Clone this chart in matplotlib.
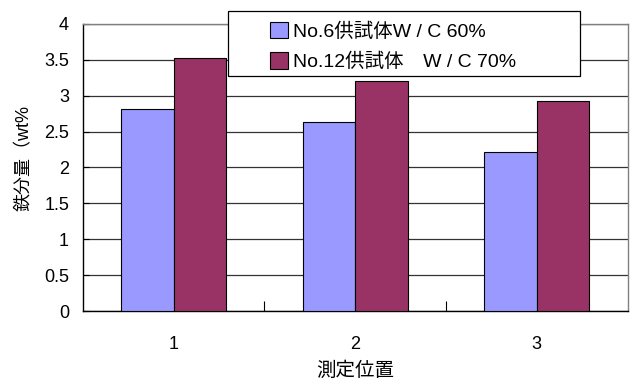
import matplotlib
matplotlib.use("Agg")
import matplotlib.pyplot as plt
from matplotlib.patches import Rectangle
import numpy as np

plt.rcParams['font.family'] = ['Liberation Sans', 'Noto Sans CJK JP', 'DejaVu Sans']

positions = ["1", "2", "3"]
series_labels = ["No.6供試体W / C 60%", "No.12供試体\u3000W / C 70%"]
wc60 = [2.81, 2.64, 2.22]
wc70 = [3.53, 3.21, 2.92]
colors = ["#9999FF", "#993366"]
y_ticks = [0, 0.5, 1, 1.5, 2, 2.5, 3, 3.5, 4]
y_tick_labels = ["0", "0.5", "1", "1.5", "2", "2.5", "3", "3.5", "4"]

fig = plt.figure(figsize=(6.31, 3.85), dpi=100)
ax = fig.add_axes([0.1315, 0.1922, 0.8630, 0.7455])

x = np.arange(len(positions))
w = 0.289
b1 = ax.bar(x - w / 2, wc60, w, color=colors[0], edgecolor="black", linewidth=0.8,
            label=series_labels[0], zorder=3)
b2 = ax.bar(x + w / 2, wc70, w, color=colors[1], edgecolor="black", linewidth=0.8,
            label=series_labels[1], zorder=3)

ax.set_xlim(-0.5, len(positions) - 0.5)
ax.set_ylim(0, 4)
ax.set_yticks(y_ticks)
ax.set_yticklabels(y_tick_labels, fontsize=13)
ax.yaxis.grid(True, color="#333333", linewidth=0.9, zorder=0)
ax.tick_params(axis="y", direction="in", length=4, pad=10, color="black")

# category boundaries carry the tick marks, labels sit at the centres
ax.set_xticks(np.arange(0.5, len(positions) - 0.5, 1.0))
ax.set_xticklabels([])
ax.tick_params(axis="x", which="major", direction="in", length=7, color="black")
ax.set_xticks(x, minor=True)
ax.set_xticklabels(positions, minor=True, fontsize=13)
ax.tick_params(axis="x", which="minor", length=0, pad=18)

for side in ["top", "right"]:
    ax.spines[side].set_color("#808080")
    ax.spines[side].set_linewidth(1.0)
for side in ["left", "bottom"]:
    ax.spines[side].set_color("black")
    ax.spines[side].set_linewidth(1.0)

ax.set_xlabel("測定位置", fontsize=14, labelpad=6)
fig.text(0.038, 0.59, "鉄分量（wt%", rotation=90, fontsize=13, ha="center", va="center")

# legend frame, wider than its entries
frame = Rectangle((0.361, 0.803), 0.558, 0.168, transform=fig.transFigure,
                  facecolor="white", edgecolor="black", linewidth=0.9, zorder=4)
fig.add_artist(frame)

leg = fig.legend(handles=[b1, b2], labels=series_labels, loc="center left",
                 bbox_to_anchor=(0.428, 0.879), fontsize=14, frameon=False,
                 handlelength=0.9, handleheight=0.9, handletextpad=0.3,
                 borderpad=0.0, labelspacing=0.6, borderaxespad=0)
leg.set_zorder(5)

fig.savefig("out.png", dpi=100)
